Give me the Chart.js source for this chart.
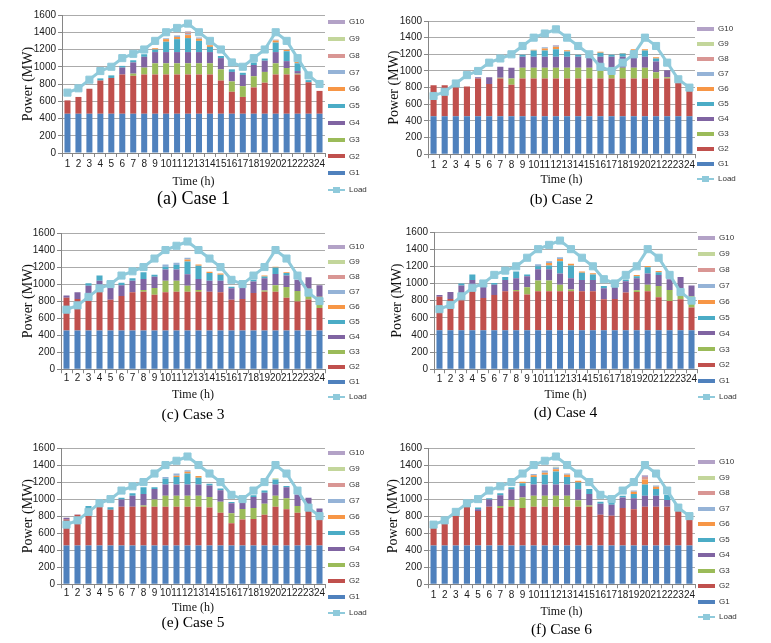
<!DOCTYPE html>
<html>
<head>
<meta charset="utf-8">
<script src="https://cdn.jsdelivr.net/npm/chart.js@4.4.0/dist/chart.umd.min.js"></script>
<style>
html,body{margin:0;padding:0;background:#fff;}
#wrap{position:relative;width:771px;height:643px;overflow:hidden;background:#fff;}
#wrap canvas{position:absolute;display:block;}
</style>
</head>
<body>
<div id="wrap"></div>
<script>
// ---------- data ----------
const hours = ['1','2','3','4','5','6','7','8','9','10','11','12','13','14','15','16','17','18','19','20','21','22','23','24'];
const load = [700,750,850,950,1000,1100,1150,1200,1300,1400,1450,1500,1400,1300,1200,1050,1000,1100,1200,1400,1300,1100,900,800];
const genNames = ['G1','G2','G3','G4','G5','G6','G7','G8','G9','G10'];
const yTickMax = 1600;
const yTickStep = 200;
const captions = ['(a) Case 1','(b) Case 2','(c) Case 3','(d) Case 4','(e) Case 5','(f) Case 6'];

const g1 = [455,455,455,455,455,455,455,455,455,455,455,455,455,455,455,455,455,455,455,455,455,455,455,455];

// Case 1
const case1G2 = [155,195,290,385,415,455,440,455,455,455,455,455,455,455,385,255,195,305,360,455,455,455,365,265];
const case1G3 = [0,0,0,0,0,0,25,80,130,130,130,130,130,130,130,120,125,130,125,130,75,10,0,0];
const case1G4 = [0,0,0,0,0,80,130,125,130,130,130,130,130,130,130,110,130,130,130,130,80,30,0,0];
const case1G5 = [0,0,0,25,30,20,25,30,30,120,150,162,130,60,25,30,25,30,25,110,115,90,25,0];
const case1G6 = [0,0,0,0,0,0,0,0,15,30,25,35,25,20,0,0,0,0,0,25,15,15,0,0];
const case1G7 = [0,0,0,0,0,0,0,0,0,10,15,10,15,0,0,0,0,0,0,10,0,0,0,0];
const case1G8 = [0,0,0,0,0,0,0,0,0,0,0,20,0,0,0,0,0,0,0,0,0,0,0,0];
const case1G9 = [0,0,0,0,0,0,0,0,0,0,0,5,0,0,0,0,0,0,0,0,0,0,0,0];
const case1G10 = [0,0,0,0,0,0,0,0,0,0,5,8,0,0,0,0,0,0,0,0,0,0,0,0];

// Case 2
const case2G2 = [375,375,355,360,455,390,455,380,455,455,455,455,455,455,455,455,455,455,455,455,455,455,405,305];
const case2G3 = [0,0,0,0,0,0,10,75,130,130,130,130,130,130,130,130,130,130,130,130,75,15,0,0];
const case2G4 = [0,0,0,0,15,80,130,130,130,130,130,130,130,130,120,130,130,130,120,130,130,85,0,0];
const case2G5 = [0,0,0,0,0,0,0,0,25,75,75,90,65,25,0,50,25,40,85,75,35,0,0,0];
const case2G6 = [0,0,0,0,0,0,0,0,0,10,25,30,15,0,0,10,0,5,15,15,15,0,0,0];
const case2G7 = [0,0,0,0,0,0,0,0,0,0,15,10,0,0,0,0,0,0,0,0,0,0,0,0];
const case2G8 = [0,0,0,0,0,0,0,0,0,0,0,0,0,0,0,0,0,0,0,0,0,0,0,0];
const case2G9 = [0,0,0,0,0,0,0,0,0,0,0,0,0,0,0,0,0,0,0,0,0,0,0,0];
const case2G10 = [0,0,0,0,0,0,0,0,0,0,0,10,0,0,0,0,0,0,0,0,0,0,0,0];

// Case 3
const case3G2 = [385,370,355,455,360,405,450,455,420,450,455,455,455,455,450,360,370,440,455,455,385,340,365,265];
const case3G3 = [0,0,0,0,0,0,0,20,80,135,130,70,20,0,0,0,0,0,15,75,125,125,125,130];
const case3G4 = [25,80,170,130,140,125,135,130,130,130,130,135,130,130,135,135,135,135,145,135,135,130,135,135];
const case3G5 = [0,0,30,60,0,30,30,80,25,35,55,150,155,90,70,20,0,20,20,75,30,0,0,0];
const case3G6 = [0,0,0,0,0,0,0,0,0,0,0,25,15,15,15,0,0,0,10,10,10,0,0,0];
const case3G7 = [0,0,0,0,0,0,0,0,0,25,25,20,0,0,0,0,0,0,0,0,0,0,0,0];
const case3G8 = [0,0,0,0,0,0,0,0,0,0,0,0,0,0,0,0,0,0,0,0,0,0,0,0];
const case3G9 = [0,0,0,0,0,0,0,0,0,0,0,0,0,0,0,0,0,0,0,0,0,0,0,0];
const case3G10 = [0,0,0,0,0,0,0,0,0,0,0,0,0,0,0,0,0,0,0,0,0,0,0,0];

// Case 4
const case4G2 = [390,365,360,455,375,410,455,455,415,455,455,455,455,455,455,360,365,440,445,455,385,340,360,265];
const case4G3 = [0,0,0,0,0,0,0,15,85,125,125,75,20,0,0,0,0,0,20,75,130,130,125,130];
const case4G4 = [20,80,160,130,130,120,130,135,130,130,130,130,130,130,130,130,130,130,140,130,130,125,135,125];
const case4G5 = [0,0,25,65,0,20,35,80,20,35,45,145,150,85,65,25,15,20,25,75,30,0,0,0];
const case4G6 = [0,0,0,0,0,0,0,0,0,0,30,25,20,15,15,0,0,0,15,15,15,0,0,0];
const case4G7 = [0,0,0,0,0,0,0,0,0,25,20,20,0,0,0,0,0,0,0,0,0,0,0,0];
const case4G8 = [0,0,0,0,0,0,0,0,0,0,0,0,0,0,0,0,0,0,0,0,0,0,0,0];
const case4G9 = [0,0,0,0,0,0,0,0,0,0,0,0,0,0,0,0,0,0,0,0,0,0,0,0];
const case4G10 = [0,0,0,0,0,0,0,0,0,0,0,0,0,0,0,0,0,0,0,0,0,0,0,0];

// Case 5
const case5G2 = [305,360,440,455,420,455,455,455,455,455,455,455,455,445,385,260,305,310,360,455,425,385,410,305];
const case5G3 = [0,0,0,0,0,0,0,15,85,130,130,130,130,125,130,120,125,130,130,130,130,80,0,0];
const case5G4 = [20,5,0,5,0,85,130,135,125,130,130,130,130,135,135,115,75,130,130,130,130,135,150,130];
const case5G5 = [0,0,25,0,30,20,30,80,20,70,90,130,80,20,20,15,0,20,25,60,15,0,0,0];
const case5G6 = [0,0,0,0,0,0,0,0,0,0,15,20,20,0,0,0,0,0,0,0,0,0,0,0];
const case5G7 = [0,0,0,0,0,0,0,0,0,20,25,20,0,0,0,0,0,0,0,0,0,0,0,0];
const case5G8 = [0,0,0,0,0,0,0,0,0,0,0,0,0,0,0,0,0,0,0,0,0,0,0,0];
const case5G9 = [0,0,0,0,0,0,0,0,0,0,0,0,0,0,0,0,0,0,0,15,0,0,0,0];
const case5G10 = [0,0,0,0,0,0,0,0,0,0,0,0,0,0,0,0,0,0,0,0,0,0,0,0];

// Case 6
const case6G2 = [210,260,360,455,405,455,440,455,440,455,455,455,455,455,455,360,350,440,425,455,455,455,410,305];
const case6G3 = [0,0,0,0,0,0,25,80,125,130,130,130,130,75,15,0,0,0,0,0,0,0,0,0];
const case6G4 = [0,0,0,0,20,85,125,125,135,130,130,130,130,130,135,130,130,125,130,130,130,80,0,0];
const case6G5 = [0,0,0,0,20,15,25,25,30,90,115,155,90,80,60,25,30,20,50,130,80,60,0,0];
const case6G6 = [0,0,0,0,0,0,0,0,20,20,25,25,25,20,0,0,0,0,25,60,25,0,0,0];
const case6G7 = [0,0,0,0,0,0,0,0,0,15,25,20,15,0,0,0,0,0,15,0,15,0,0,0];
const case6G8 = [0,0,0,0,0,0,0,0,0,0,0,0,0,0,0,0,0,0,0,30,0,0,0,0];
const case6G9 = [0,0,0,0,0,0,0,0,0,0,0,10,0,0,0,0,0,0,0,0,0,0,0,0];
const case6G10 = [0,0,0,0,0,0,0,0,0,0,0,0,0,0,0,0,0,0,0,20,0,0,0,0];

const caseSeries = [
  [g1, case1G2, case1G3, case1G4, case1G5, case1G6, case1G7, case1G8, case1G9, case1G10],
  [g1, case2G2, case2G3, case2G4, case2G5, case2G6, case2G7, case2G8, case2G9, case2G10],
  [g1, case3G2, case3G3, case3G4, case3G5, case3G6, case3G7, case3G8, case3G9, case3G10],
  [g1, case4G2, case4G3, case4G4, case4G5, case4G6, case4G7, case4G8, case4G9, case4G10],
  [g1, case5G2, case5G3, case5G4, case5G5, case5G6, case5G7, case5G8, case5G9, case5G10],
  [g1, case6G2, case6G3, case6G4, case6G5, case6G6, case6G7, case6G8, case6G9, case6G10]
];

// ---------- styles / layout ----------
const genColors = ['#4F81BD','#C0504D','#9BBB59','#8064A2','#4BACC6','#F79646','#95B3D7','#D99694','#C3D69B','#B3A2C7'];
const loadColor = '#8FCADB';

// panel geometry (panel-relative px)
const panels = [
  {x:0,   y:0,   L:62, R:325, T:15, B:153, yT:28, xTk:164, xT:182, cap:199, capSize:18, lgX:328, lgY:22, lgStep:16.8},
  {x:385, y:0,   L:43, R:310, T:21, B:154, yT:9,  xTk:165, xT:180, cap:200, capSize:15.5, lgX:312, lgY:29, lgStep:15},
  {x:0,   y:215, L:61, R:325, T:18, B:154, yT:28, xTk:163, xT:180, cap:200, capSize:15.5, lgX:328, lgY:32, lgStep:15},
  {x:385, y:215, L:49, R:312, T:17, B:154, yT:12, xTk:164, xT:180, cap:198, capSize:15.5, lgX:313, lgY:23, lgStep:15.9},
  {x:0,   y:430, L:61, R:325, T:18, B:154, yT:28, xTk:163, xT:178, cap:193, capSize:15.5, lgX:328, lgY:23, lgStep:16},
  {x:385, y:430, L:43, R:310, T:18, B:154, yT:8,  xTk:165, xT:182, cap:200, capSize:15.5, lgX:313, lgY:32, lgStep:15.5}
];

const LEG_FONT = 8;

function legendImage(color, isLoad) {
  const c = document.createElement('canvas');
  c.width = 17; c.height = isLoad ? 8 : 4;
  const g = c.getContext('2d');
  if (isLoad) {
    g.strokeStyle = color; g.lineWidth = 2;
    g.beginPath(); g.moveTo(0, 4); g.lineTo(17, 4); g.stroke();
    g.fillStyle = color; g.fillRect(5, 1, 7, 6);
  } else {
    g.fillStyle = color; g.fillRect(0, 0, 17, 4);
  }
  return c;
}
const legendImgs = genColors.map(c => legendImage(c, false)).concat([legendImage(loadColor, true)]);

const legendPlace = {
  id: 'legendPlace',
  afterLayout(chart, args, opts) {
    const lg = chart.legend;
    if (!lg) return;
    const pad = lg.options.labels.padding;
    lg.left = opts.x - pad;
    lg.right = chart.width;
    lg.top = opts.y - LEG_FONT / 2 - pad;
    lg.bottom = chart.height;
  }
};

const wrap = document.getElementById('wrap');
const yTicks = [];
for (let v = 0; v <= yTickMax; v += yTickStep) yTicks.push(v);

panels.forEach((p, k) => {
  const capPadTop = Math.max(0, p.cap - (p.xT + 6) - p.capSize / 2);
  const W = p.R + 50;
  const H = Math.round(p.xT + 6 + capPadTop + p.capSize + 2);
  const cv = document.createElement('canvas');
  cv.width = W; cv.height = H;
  cv.style.left = p.x + 'px'; cv.style.top = p.y + 'px';
  cv.style.width = W + 'px'; cv.style.height = H + 'px';
  wrap.appendChild(cv);

  const series = caseSeries[k];
  const datasets = series.map((arr, i) => ({
    type: 'bar',
    label: genNames[i],
    data: arr,
    backgroundColor: genColors[i],
    borderWidth: 0,
    stack: 'gen',
    barPercentage: 0.55,
    categoryPercentage: 1.0,
    order: 1
  }));
  datasets.push({
    type: 'line',
    label: 'Load',
    data: load,
    borderColor: loadColor,
    backgroundColor: loadColor,
    borderWidth: 3,
    pointStyle: 'rect',
    pointRadius: 5,
    pointBackgroundColor: loadColor,
    pointBorderColor: loadColor,
    pointBorderWidth: 1,
    tension: 0,
    stack: 'load',
    order: 0
  });

  const rank = i => (i === 10 ? 100 : 10 - i);

  new Chart(cv, {
    data: { labels: hours, datasets },
    plugins: [legendPlace],
    options: {
      responsive: false,
      animation: false,
      layout: { padding: { left: 0, right: 10, top: 0, bottom: 0 } },
      scales: {
        x: {
          stacked: true,
          offset: true,
          ticks: {
            autoSkip: false, maxRotation: 0, minRotation: 0,
            font: { family: 'Liberation Sans', size: 10, lineHeight: 1 },
            color: '#1a1a1a',
            padding: Math.max(0, p.xTk - p.B - 9)
          },
          grid: { drawOnChartArea: false, drawTicks: true, tickLength: 4, color: '#868686', offset: true },
          border: { color: '#868686', width: 1 },
          title: {
            display: true, text: 'Time (h)',
            font: { family: 'Liberation Serif', size: 12, lineHeight: 1 },
            color: '#111', padding: { top: 0, bottom: 0 }
          },
          afterFit: s => { s.height = p.xT + 6 - p.B; }
        },
        y: {
          stacked: true,
          min: 0, max: yTickMax,
          afterBuildTicks: s => { s.ticks = yTicks.map(v => ({ value: v })); },
          ticks: {
            stepSize: yTickStep,
            callback: v => String(v),
            font: { family: 'Liberation Sans', size: 10 },
            color: '#1a1a1a',
            padding: 2
          },
          grid: { color: '#ABABAB', lineWidth: 1, drawTicks: true, tickLength: 4, tickColor: '#868686' },
          border: { color: '#868686', width: 1 },
          title: {
            display: true, text: 'Power (MW)',
            font: { family: 'Liberation Serif', size: 14, lineHeight: 1 },
            color: '#111', padding: { top: Math.max(0, p.yT - 7), bottom: 0 }
          },
          afterFit: s => { s.width = p.L; }
        }
      },
      plugins: {
        tooltip: { enabled: false },
        legendPlace: { x: p.lgX, y: p.lgY },
        legend: {
          display: true,
          position: 'right',
          align: 'start',
          maxWidth: 40,
          labels: {
            usePointStyle: true,
            pointStyleWidth: 17,
            boxHeight: LEG_FONT,
            padding: p.lgStep - LEG_FONT,
            color: '#333',
            font: { family: 'Liberation Sans', size: LEG_FONT },
            sort: (a, b) => rank(a.datasetIndex) - rank(b.datasetIndex),
            generateLabels: chart => {
              const items = Chart.defaults.plugins.legend.labels.generateLabels(chart);
              items.forEach(it => { it.pointStyle = legendImgs[it.datasetIndex]; it.lineWidth = 0; });
              return items;
            }
          }
        },
        subtitle: {
          display: true, position: 'top', fullSize: false, text: '',
          font: { size: 1, lineHeight: 1 },
          padding: { top: p.T - 1, bottom: 0 }
        },
        title: {
          display: true, position: 'bottom', fullSize: false,
          text: captions[k],
          font: { family: 'Liberation Serif', size: p.capSize, lineHeight: 1, weight: 'normal' },
          color: '#000',
          padding: { top: capPadTop, bottom: 2 }
        }
      }
    }
  });
});
</script>
</body>
</html>
